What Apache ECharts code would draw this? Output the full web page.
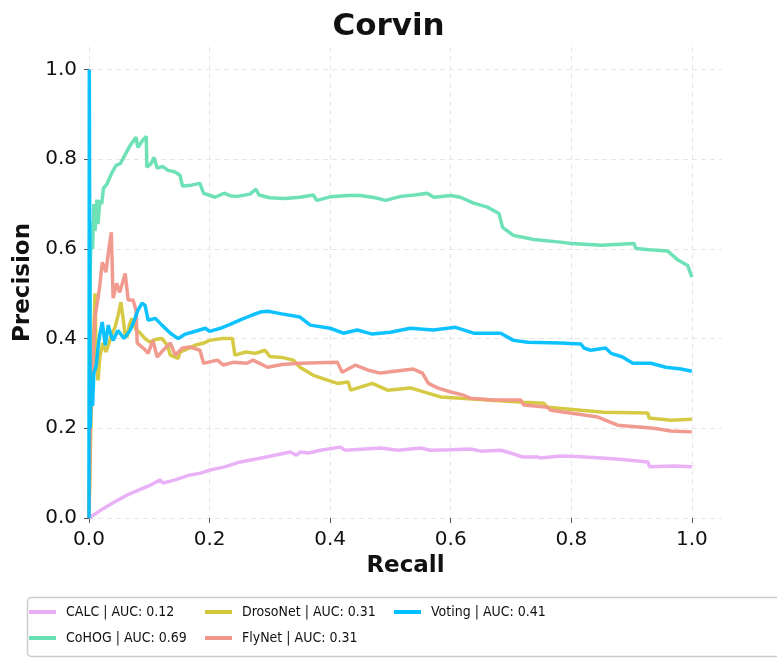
<!DOCTYPE html>
<html>
<head>
<meta charset="utf-8">
<script src="https://cdn.jsdelivr.net/npm/echarts@6/dist/echarts.min.js"></script>
<style>
  html, body { margin: 0; padding: 0; background: #fff; }
  #chart { width: 777px; height: 658px; }
</style>
</head>
<body>
<div id="chart"></div>
<script>
// Precision-recall curves, one [recall, precision] list per method
const seriesNames = [
  'CALC | AUC: 0.12',
  'CoHOG | AUC: 0.69',
  'DrosoNet | AUC: 0.31',
  'FlyNet | AUC: 0.31',
  'Voting | AUC: 0.41'
];
const seriesColors = ['#E9AEF5', '#67DFB2', '#D4C73A', '#F0968A', '#00BFFF'];
const tickValues = [0, 0.2, 0.4, 0.6, 0.8, 1.0];

const calc = [[0,0],[0.02,0.018],[0.04,0.034],[0.063,0.051],[0.085,0.064],[0.1,0.072],[0.118,0.085],[0.123,0.078],
  [0.14,0.084],[0.168,0.096],[0.185,0.1],[0.201,0.107],[0.225,0.114],[0.251,0.125],[0.29,0.135],[0.334,0.147],
  [0.344,0.14],[0.35,0.147],[0.364,0.145],[0.384,0.151],[0.417,0.158],[0.425,0.151],[0.458,0.154],[0.483,0.156],
  [0.513,0.151],[0.55,0.156],[0.566,0.151],[0.6,0.152],[0.633,0.154],[0.65,0.149],[0.683,0.151],[0.699,0.145],
  [0.719,0.136],[0.744,0.136],[0.749,0.134],[0.782,0.138],[0.81,0.137],[0.85,0.134],[0.88,0.131],[0.927,0.125],
  [0.93,0.114],[0.97,0.116],[1.0,0.114]];

const cohog = [[0,0],[0.002,0.55],[0.004,0.66],[0.006,0.6],[0.008,0.7],[0.01,0.64],[0.013,0.71],[0.015,0.655],
  [0.018,0.708],[0.021,0.7],[0.024,0.735],[0.03,0.745],[0.038,0.77],[0.045,0.786],[0.052,0.79],[0.06,0.81],
  [0.068,0.83],[0.078,0.849],[0.081,0.826],[0.088,0.84],[0.095,0.851],[0.096,0.782],[0.103,0.79],[0.108,0.804],
  [0.113,0.78],[0.122,0.784],[0.131,0.775],[0.142,0.772],[0.151,0.764],[0.155,0.74],[0.17,0.742],[0.184,0.746],
  [0.19,0.724],[0.209,0.715],[0.224,0.724],[0.235,0.718],[0.246,0.717],[0.267,0.722],[0.277,0.733],[0.282,0.72],
  [0.3,0.714],[0.325,0.712],[0.35,0.715],[0.372,0.72],[0.378,0.708],[0.4,0.716],[0.43,0.719],[0.45,0.719],
  [0.475,0.714],[0.492,0.708],[0.517,0.717],[0.54,0.72],[0.561,0.724],[0.572,0.715],[0.6,0.719],[0.616,0.715],
  [0.638,0.702],[0.661,0.693],[0.68,0.679],[0.686,0.648],[0.704,0.63],[0.738,0.621],[0.782,0.615],[0.8,0.612],
  [0.85,0.608],[0.904,0.612],[0.907,0.601],[0.93,0.598],[0.96,0.595],[0.977,0.575],[0.993,0.563],[1.0,0.537]];

const drosonet = [[0,0],[0.003,0.2],[0.006,0.33],[0.01,0.501],[0.012,0.35],[0.015,0.307],[0.018,0.36],[0.023,0.39],
  [0.028,0.37],[0.032,0.385],[0.038,0.41],[0.043,0.425],[0.048,0.45],[0.053,0.481],[0.057,0.44],[0.06,0.408],
  [0.063,0.403],[0.067,0.43],[0.071,0.445],[0.078,0.42],[0.085,0.412],[0.093,0.4],[0.101,0.392],[0.11,0.398],
  [0.121,0.4],[0.13,0.385],[0.135,0.363],[0.148,0.356],[0.151,0.37],[0.165,0.378],[0.176,0.385],[0.19,0.39],
  [0.2,0.396],[0.22,0.4],[0.238,0.4],[0.242,0.363],[0.26,0.37],[0.276,0.367],[0.292,0.374],[0.3,0.36],
  [0.32,0.358],[0.339,0.352],[0.35,0.336],[0.372,0.318],[0.412,0.3],[0.43,0.303],[0.434,0.285],[0.47,0.3],
  [0.495,0.285],[0.533,0.29],[0.583,0.27],[0.616,0.267],[0.661,0.263],[0.721,0.258],[0.754,0.256],[0.761,0.247],
  [0.816,0.24],[0.854,0.236],[0.927,0.234],[0.929,0.223],[0.965,0.218],[1.0,0.22]];

const flynet = [[0,0],[0.003,0.28],[0.006,0.34],[0.01,0.45],[0.015,0.49],[0.018,0.52],[0.022,0.57],[0.025,0.56],
  [0.028,0.548],[0.033,0.6],[0.037,0.637],[0.04,0.49],[0.046,0.523],[0.051,0.503],[0.06,0.545],[0.065,0.486],
  [0.073,0.486],[0.078,0.463],[0.08,0.39],[0.088,0.381],[0.093,0.375],[0.098,0.367],[0.106,0.396],[0.113,0.359],
  [0.123,0.374],[0.135,0.39],[0.143,0.363],[0.155,0.379],[0.168,0.381],[0.184,0.374],[0.19,0.345],[0.213,0.352],
  [0.223,0.341],[0.239,0.347],[0.262,0.345],[0.272,0.352],[0.296,0.336],[0.32,0.342],[0.35,0.345],[0.412,0.347],
  [0.42,0.325],[0.442,0.341],[0.462,0.33],[0.483,0.323],[0.538,0.332],[0.553,0.323],[0.563,0.3],[0.578,0.29],
  [0.6,0.281],[0.621,0.274],[0.633,0.267],[0.671,0.263],[0.716,0.263],[0.721,0.252],[0.761,0.247],[0.766,0.24],
  [0.844,0.225],[0.877,0.207],[0.937,0.2],[0.965,0.194],[1.0,0.192]];

const voting = [[0,0],[0.0005,1.0],[0.002,0.2],[0.004,0.3],[0.006,0.25],[0.008,0.323],[0.012,0.34],[0.015,0.38],
  [0.018,0.41],[0.022,0.437],[0.027,0.385],[0.032,0.43],[0.036,0.41],[0.04,0.396],[0.048,0.418],[0.058,0.4],
  [0.068,0.418],[0.075,0.44],[0.081,0.463],[0.088,0.479],[0.093,0.474],[0.098,0.441],[0.11,0.445],[0.121,0.43],
  [0.135,0.412],[0.148,0.4],[0.16,0.41],[0.171,0.414],[0.193,0.423],[0.2,0.416],[0.218,0.423],[0.235,0.432],
  [0.25,0.441],[0.27,0.452],[0.284,0.459],[0.297,0.461],[0.32,0.455],[0.35,0.448],[0.367,0.43],[0.4,0.423],
  [0.422,0.412],[0.445,0.419],[0.47,0.41],[0.5,0.414],[0.533,0.423],[0.571,0.419],[0.608,0.425],[0.638,0.412],
  [0.683,0.412],[0.704,0.396],[0.728,0.392],[0.782,0.39],[0.816,0.388],[0.821,0.379],[0.832,0.374],[0.857,0.379],
  [0.866,0.367],[0.885,0.359],[0.902,0.345],[0.932,0.345],[0.957,0.336],[0.982,0.332],[1.0,0.327]];

const seriesData = [calc, cohog, drosonet, flynet, voting];

const chart = echarts.init(document.getElementById('chart'), null, { renderer: 'canvas' });

const axisCommon = {
  type: 'value',
  min: 0,
  max: 1.05,
  axisLine: { show: false },
  axisTick: { show: true, length: 5, lineStyle: { color: '#555', width: 1 }, customValues: tickValues },
  axisLabel: {
    customValues: tickValues,
    formatter: v => v.toFixed(1),
    color: '#111',
    fontSize: 20,
    fontFamily: 'DejaVu Sans'
  },
  splitLine: { show: true, lineStyle: { color: '#e6e6e6', width: 1, type: [5, 4] } },
  nameLocation: 'middle',
  nameTextStyle: { fontSize: 23, fontWeight: 'bold', color: '#111', fontFamily: 'DejaVu Sans' }
};

// one legend per entry so every item sits in its own column slot
const legendSlots = [[29, 605], [29, 631], [205, 605], [205, 631], [394, 605]];
const legends = seriesNames.map((name, i) => ({
  data: [name],
  left: legendSlots[i][0],
  top: legendSlots[i][1],
  padding: 0,
  icon: 'rect',
  itemWidth: 27,
  itemHeight: 4,
  selectedMode: false,
  textStyle: {
    fontSize: 14,
    color: '#111',
    fontFamily: "'Liberation Sans Narrow', 'DejaVu Sans Condensed', 'Roboto Condensed', sans-serif",
    padding: [0, 0, 0, 5]
  }
}));

chart.setOption({
  backgroundColor: '#fff',
  animation: false,
  title: {
    text: 'Corvin',
    left: 'center',
    top: 6,
    textStyle: { fontSize: 31, fontWeight: 'bold', color: '#111', fontFamily: 'DejaVu Sans' }
  },
  graphic: [{
    type: 'rect',
    z: -1,
    shape: { x: 27.5, y: 597.5, width: 770, height: 59, r: 4 },
    style: { fill: '#fff', stroke: '#cccccc', lineWidth: 1.5 }
  }],
  legend: legends,
  grid: { left: 89, right: 55, top: 47, bottom: 140, containLabel: false },
  xAxis: Object.assign({}, axisCommon, {
    name: 'Recall',
    nameGap: 36,
    axisLabel: Object.assign({}, axisCommon.axisLabel, { margin: 12 })
  }),
  yAxis: Object.assign({}, axisCommon, {
    name: 'Precision',
    nameGap: 54,
    axisLabel: Object.assign({}, axisCommon.axisLabel, { margin: 12 })
  }),
  series: seriesNames.map((name, i) => ({
    name: name,
    type: 'line',
    data: seriesData[i],
    showSymbol: false,
    symbol: 'none',
    color: seriesColors[i],
    lineStyle: { width: 3.5, color: seriesColors[i], opacity: 0.95 },
    z: 2 + i
  }))
});
</script>
</body>
</html>
